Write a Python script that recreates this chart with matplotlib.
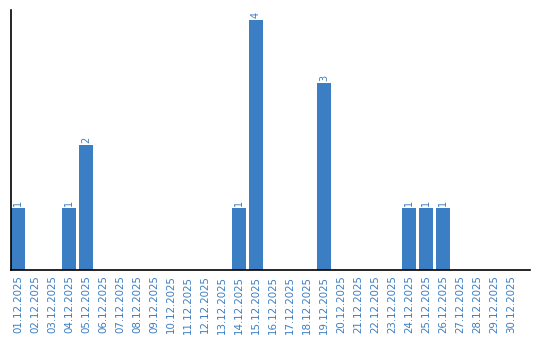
import matplotlib
matplotlib.use("Agg")
import matplotlib.pyplot as plt
import numpy as np

dates = [f"{d:02d}.12.2025" for d in range(1, 31)]
values = [1, 0, 0, 1, 2, 0, 0, 0, 0, 0, 0, 0, 0, 1, 4, 0, 0, 0, 3, 0,
          0, 0, 0, 1, 1, 1, 0, 0, 0, 0]

blue = "#3b7ec3"
fig = plt.figure(figsize=(5.4, 3.4), dpi=100)
ax = fig.add_axes([11/540, 70/340, 519/540, 260/340])

bw = 14/17
x = np.arange(len(dates)) + bw/2
ax.bar(x, values, width=bw, color=blue, zorder=2)
for xi, v in zip(x, values):
    if v > 0:
        ax.text(xi, v + 0.03, str(v), rotation=90, ha="center", va="bottom",
                color=blue, fontsize=7)

ax.set_xlim(0, 30.53)
ax.set_ylim(0, 4.16)
ax.set_xticks(x)
ax.set_xticklabels(dates, rotation=90, color=blue, fontsize=7.4)
ax.tick_params(axis="x", length=0, pad=4)
ax.set_yticks([])
for s in ["top", "right"]:
    ax.spines[s].set_visible(False)
ax.spines["left"].set_linewidth(1.2)
ax.spines["bottom"].set_linewidth(1.2)

fig.savefig("out.png", dpi=100)
